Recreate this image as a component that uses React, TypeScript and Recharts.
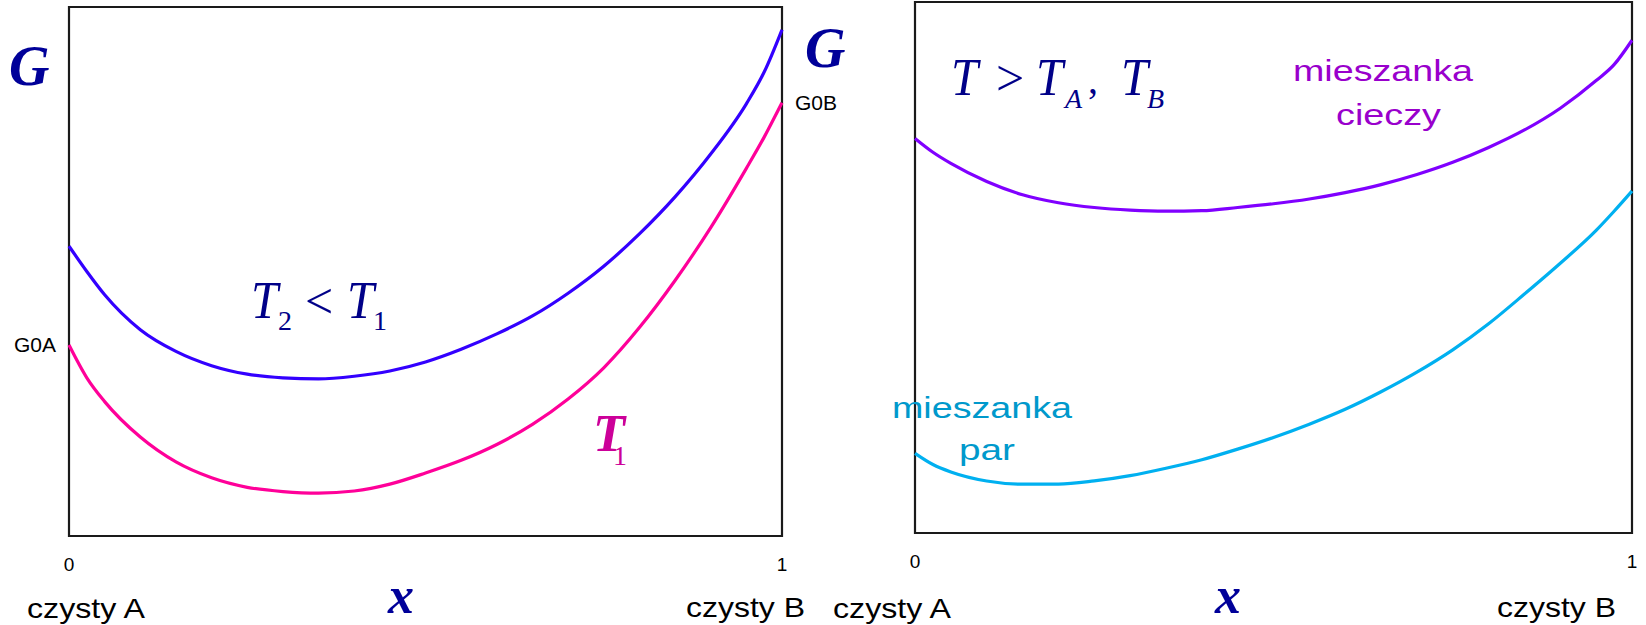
import React from 'react';
import { LineChart, Line, XAxis, YAxis, ReferenceArea } from 'recharts';

// ---- Shared composition grid (mole fraction of B) ----
const xGrid = [0, 0.025, 0.05, 0.1, 0.15, 0.2, 0.25, 0.3, 0.35, 0.4, 0.45, 0.5, 0.55, 0.6, 0.65, 0.7, 0.75, 0.8, 0.85, 0.9, 0.95, 0.975, 1];

// ---- Left panel: G(x) at two temperatures ----
const gT2 = [54.8, 50.0, 45.6, 39.0, 34.9, 32.2, 30.6, 29.9, 29.7, 30.2, 31.2, 32.9, 35.3, 38.2, 41.6, 45.9, 51.0, 57.1, 64.1, 72.2, 81.7, 87.7, 95.7];
const gT1 = [36.1, 29.9, 25.4, 18.7, 14.0, 11.0, 9.2, 8.4, 8.1, 8.5, 9.8, 11.9, 14.3, 17.3, 21.1, 25.9, 31.8, 39.4, 48.3, 58.3, 69.5, 75.4, 81.9];

// ---- Right panel: liquid vs vapour mixture ----
const gLiquid = [74.3, 71.7, 69.6, 66.2, 63.7, 62.2, 61.3, 60.8, 60.6, 60.7, 61.3, 62.0, 62.9, 64.1, 65.6, 67.5, 69.8, 72.6, 75.9, 80.0, 85.2, 88.2, 92.8];
const gVapor = [15.0, 12.9, 11.5, 9.8, 9.2, 9.2, 9.8, 10.8, 12.2, 13.8, 15.8, 18.0, 20.5, 23.3, 26.6, 30.3, 34.5, 39.4, 45.0, 50.8, 57.0, 60.6, 64.4];

const xTicks = [0, 1];
const xTickLabels = ['0', '1'];
const leftTickLabel = 'G0A';
const rightTickLabel = 'G0B';

const leftData = xGrid.map((x, i) => ({ x, t2: gT2[i], t1: gT1[i] }));
const rightData = xGrid.map((x, i) => ({ x, liquid: gLiquid[i], vapor: gVapor[i] }));

const SANS = "'Liberation Sans', Arial, sans-serif";
const SERIF = "'Liberation Serif', 'Times New Roman', serif";

const xTickFmt = (v: number) => xTickLabels[xTicks.indexOf(v)] ?? String(v);

type TP = { x: number; y: number; size: number; fill: string; children: React.ReactNode; italic?: boolean; bold?: boolean; serif?: boolean; len?: number };
const Txt = ({ x, y, size, fill, children, italic, bold, serif, len }: TP) => (
  <text
    x={x}
    y={y}
    fontSize={size}
    fill={fill}
    fontFamily={serif ? SERIF : SANS}
    fontStyle={italic ? 'italic' : 'normal'}
    fontWeight={bold ? 'bold' : 'normal'}
    textLength={len}
    lengthAdjust={len ? 'spacingAndGlyphs' : undefined}
  >
    {children}
  </text>
);

export default function App() {
  const navy = '#000088';
  const gBlue = '#000099';
  return (
    <div style={{ position: 'absolute', left: 0, top: 0, width: 1646, height: 625, background: '#fff', overflow: 'hidden' }}>
      <div style={{ position: 'absolute', left: 0, top: 0 }}>
        <LineChart width={870} height={625} data={leftData} margin={{ top: 7, right: 0, bottom: 59, left: 0 }}>
          <XAxis
            dataKey="x"
            type="number"
            domain={[0, 1]}
            ticks={xTicks}
            tickFormatter={xTickFmt}
            axisLine={false}
            tickLine={false}
            tickSize={0}
            tickMargin={22}
            height={30}
            tick={{ fontSize: 19, fill: '#000', fontFamily: SANS }}
          />
          <YAxis
            yAxisId="l"
            type="number"
            domain={[0, 100]}
            ticks={[gT1[0]]}
            tickFormatter={() => leftTickLabel}
            axisLine={false}
            tickLine={false}
            tickSize={0}
            tickMargin={13}
            width={69}
            tick={{ fontSize: 21, fill: '#000', fontFamily: SANS }}
          />
          <YAxis
            yAxisId="r"
            orientation="right"
            type="number"
            domain={[0, 100]}
            ticks={[gT1[gT1.length - 1]]}
            tickFormatter={() => rightTickLabel}
            axisLine={false}
            tickLine={false}
            tickSize={0}
            tickMargin={13}
            width={88}
            tick={{ fontSize: 21, fill: '#000', fontFamily: SANS, textAnchor: 'start' }}
          />
          <ReferenceArea yAxisId="l" x1={0} x2={1} y1={0} y2={100} fill="none" stroke="#1a1a1a" strokeWidth={2.2} />
          <Line yAxisId="l" type="monotoneX" dataKey="t2" stroke="#3300FF" strokeWidth={3.2} dot={false} isAnimationActive={false} />
          <Line yAxisId="r" type="monotoneX" dataKey="t1" stroke="#FF0099" strokeWidth={3.2} dot={false} isAnimationActive={false} />
        </LineChart>
      </div>
      <div style={{ position: 'absolute', left: 820, top: 0 }}>
        <LineChart width={826} height={625} data={rightData} margin={{ top: 2, right: 14, bottom: 62, left: 95 }}>
          <XAxis
            dataKey="x"
            type="number"
            domain={[0, 1]}
            ticks={xTicks}
            tickFormatter={xTickFmt}
            axisLine={false}
            tickLine={false}
            tickSize={0}
            tickMargin={22}
            height={30}
            tick={{ fontSize: 19, fill: '#000', fontFamily: SANS }}
          />
          <YAxis type="number" domain={[0, 100]} hide width={0} />
          <ReferenceArea x1={0} x2={1} y1={0} y2={100} fill="none" stroke="#1a1a1a" strokeWidth={2.2} />
          <Line type="monotoneX" dataKey="liquid" stroke="#8000FF" strokeWidth={3.2} dot={false} isAnimationActive={false} />
          <Line type="monotoneX" dataKey="vapor" stroke="#00B0F0" strokeWidth={3.2} dot={false} isAnimationActive={false} />
        </LineChart>
      </div>
      <svg width={1646} height={625} style={{ position: 'absolute', left: 0, top: 0, pointerEvents: 'none' }}>
        {/* axis titles */}
        <Txt x={9} y={85} size={56} fill={gBlue} serif italic bold>G</Txt>
        <Txt x={805} y={67} size={56} fill={gBlue} serif italic bold>G</Txt>
        <Txt x={388} y={613} size={52} fill={gBlue} serif italic bold>x</Txt>
        <Txt x={1215} y={613} size={52} fill={gBlue} serif italic bold>x</Txt>
        {/* pure component labels */}
        <Txt x={27} y={618} size={28} fill="#000" len={118}>czysty A</Txt>
        <Txt x={686} y={617} size={28} fill="#000" len={119}>czysty B</Txt>
        <Txt x={833} y={618} size={28} fill="#000" len={118}>czysty A</Txt>
        <Txt x={1497} y={617} size={28} fill="#000" len={119}>czysty B</Txt>
        {/* T2 < T1 */}
        <Txt x={251} y={318} size={52} fill={navy} serif italic len={27}>T</Txt>
        <Txt x={278} y={330} size={28} fill={navy} serif>2</Txt>
        <Txt x={305} y={318} size={50} fill={navy} serif>&lt;</Txt>
        <Txt x={347} y={318} size={52} fill={navy} serif italic len={27}>T</Txt>
        <Txt x={373} y={330} size={28} fill={navy} serif>1</Txt>
        {/* T1 */}
        <Txt x={593} y={451} size={52} fill="#CC0099" serif italic bold len={32}>T</Txt>
        <Txt x={613} y={465} size={28} fill="#CC0099" serif>1</Txt>
        {/* T > TA, TB */}
        <Txt x={951} y={95} size={52} fill={navy} serif italic len={27}>T</Txt>
        <Txt x={996} y={95} size={50} fill={navy} serif>&gt;</Txt>
        <Txt x={1036} y={95} size={52} fill={navy} serif italic len={27}>T</Txt>
        <Txt x={1065} y={108} size={28} fill={navy} serif italic>A</Txt>
        <Txt x={1088} y={93} size={40} fill={navy} serif>,</Txt>
        <Txt x={1121} y={95} size={52} fill={navy} serif italic len={27}>T</Txt>
        <Txt x={1147} y={108} size={28} fill={navy} serif italic>B</Txt>
        {/* phase labels */}
        <Txt x={1293} y={81} size={29} fill="#9900CC" len={180}>mieszanka</Txt>
        <Txt x={1336} y={125} size={29} fill="#9900CC" len={105}>cieczy</Txt>
        <Txt x={892} y={418} size={29} fill="#0099CC" len={180}>mieszanka</Txt>
        <Txt x={959} y={460} size={29} fill="#0099CC" len={56}>par</Txt>
      </svg>
    </div>
  );
}
